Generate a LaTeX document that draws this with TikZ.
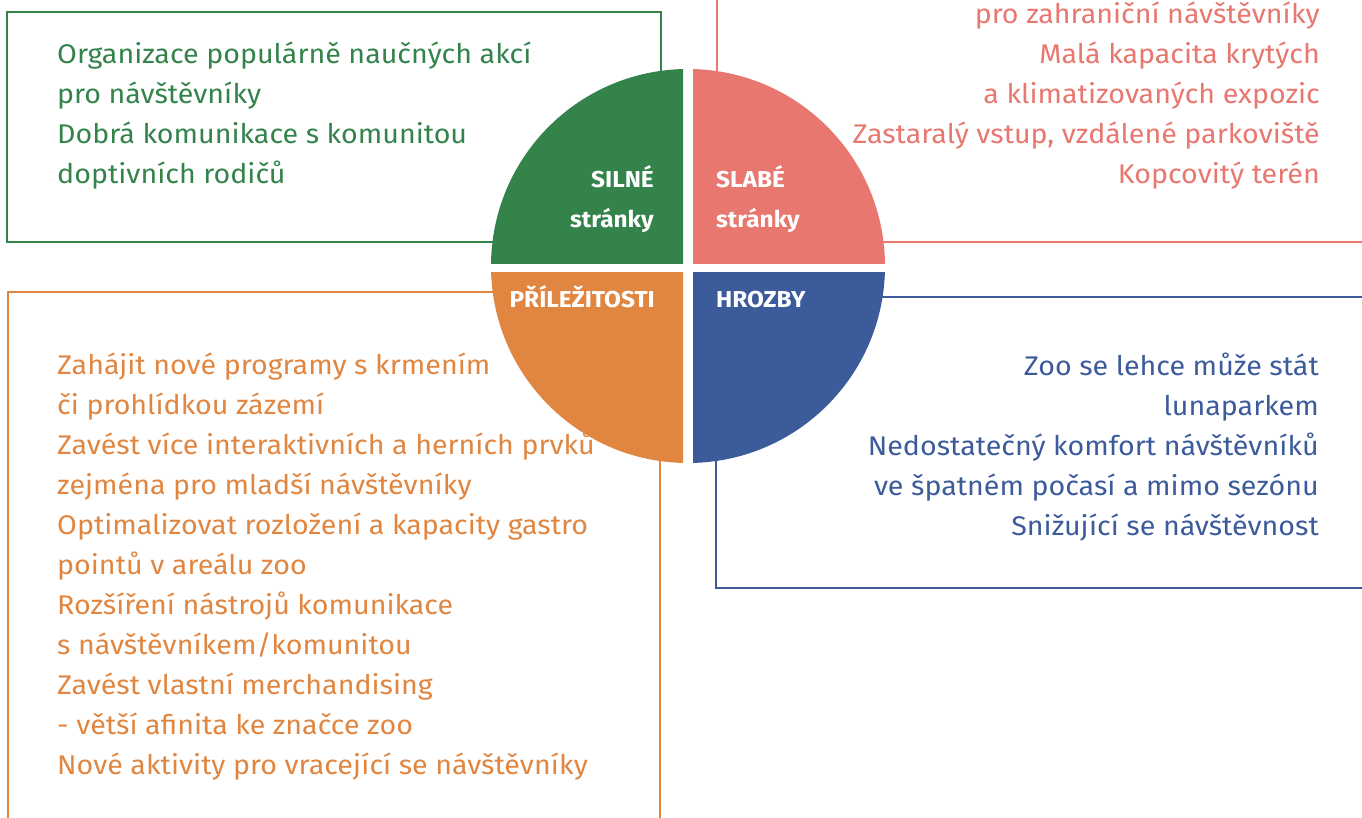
\documentclass[tikz,border=0pt]{standalone}
\usepackage{fontspec}
\setmainfont{Fira Sans}[FakeStretch=1.06]
\definecolor{cgreen}{HTML}{33834B}
\definecolor{cpink}{HTML}{E8776F}
\definecolor{corange}{HTML}{E08641}
\definecolor{cblue}{HTML}{3C5B9B}
\tikzset{
  frame/.style={line width=2pt},
  body/.style={inner sep=0pt, font=\fontsize{27}{32}\selectfont},
  lbl/.style={inner sep=0pt, text=white, font=\fontsize{23}{27}\selectfont\bfseries},
}
\begin{document}
\begin{tikzpicture}[x=1pt,y=-1pt]
\useasboundingbox (0,0) rectangle (1362,818);
\clip (0,0) rectangle (1362,818);
% frames
\draw[frame,cgreen] (7,12) rectangle (661,242);
\draw[frame,cpink] (1375,242) -| (717,-10);
\draw[frame,corange] (8,830) |- (660,292) -- (660,830);
\draw[frame,cblue] (1375,297) -| (716,588) -- (1375,588);
% quadrants
\coordinate (c) at (688,266);
\begin{scope}\clip (0,0) rectangle (683,264);\fill[cgreen] (c) circle[radius=197pt];\end{scope}
\begin{scope}\clip (693,0) rectangle (1362,264);\fill[cpink] (c) circle[radius=197pt];\end{scope}
\begin{scope}\clip (0,273) rectangle (683,818);\fill[corange] (c) circle[radius=197pt];\end{scope}
\begin{scope}\clip (693,273) rectangle (1362,818);\fill[cblue] (c) circle[radius=197pt];\end{scope}
% labels
\node[lbl,anchor=base east] (s1) at (654,188) {SILNÉ};
\node[lbl,anchor=base east] (s2) at (654,228) {stránky};
\node[lbl,anchor=base west] (w1) at (716,188) {SLABÉ};
\node[lbl,anchor=base west] (w2) at (716,228) {stránky};
\node[lbl,anchor=base east] (o1) at (655,307) {PŘÍLEŽITOSTI};
\node[lbl,anchor=base west] (t1) at (716,307) {HROZBY};
% green text
\foreach \t [count=\i] in {Organizace populárně naučných akcí,pro návštěvníky,Dobrá komunikace s komunitou,doptivních rodičů}
  \node[body,text=cgreen,anchor=base west] (g\i) at (57,24+40*\i) {\t};
% pink text
\foreach \t [count=\i] in {pro zahraniční návštěvníky,Malá kapacita krytých,a klimatizovaných expozic,{Zastaralý vstup, vzdálené parkoviště},Kopcovitý terén}
  \node[body,text=cpink,anchor=base east] (p\i) at (1320,-16+40*\i) {\t};
% orange text
\foreach \t [count=\i] in {Zahájit nové programy s krmením,či prohlídkou zázemí,Zavést více interaktivních a herních prvků,zejména pro mladší návštěvníky,Optimalizovat rozložení a kapacity gastro,pointů v areálu zoo,Rozšíření nástrojů komunikace,s návštěvníkem/komunitou,Zavést vlastní merchandising,- větší afinita ke značce zoo,Nové aktivity pro vracející se návštěvníky}
  \node[body,text=corange,anchor=base west] (r\i) at (57,334+40*\i) {\t};
% blue text
\foreach \t [count=\i] in {Zoo se lehce může stát,lunaparkem,Nedostatečný komfort návštěvníků,ve špatném počasí a mimo sezónu,Snižující se návštěvnost}
  \node[body,text=cblue,anchor=base east] (b\i) at (1319,335+40*\i) {\t};
\end{tikzpicture}
\end{document}
